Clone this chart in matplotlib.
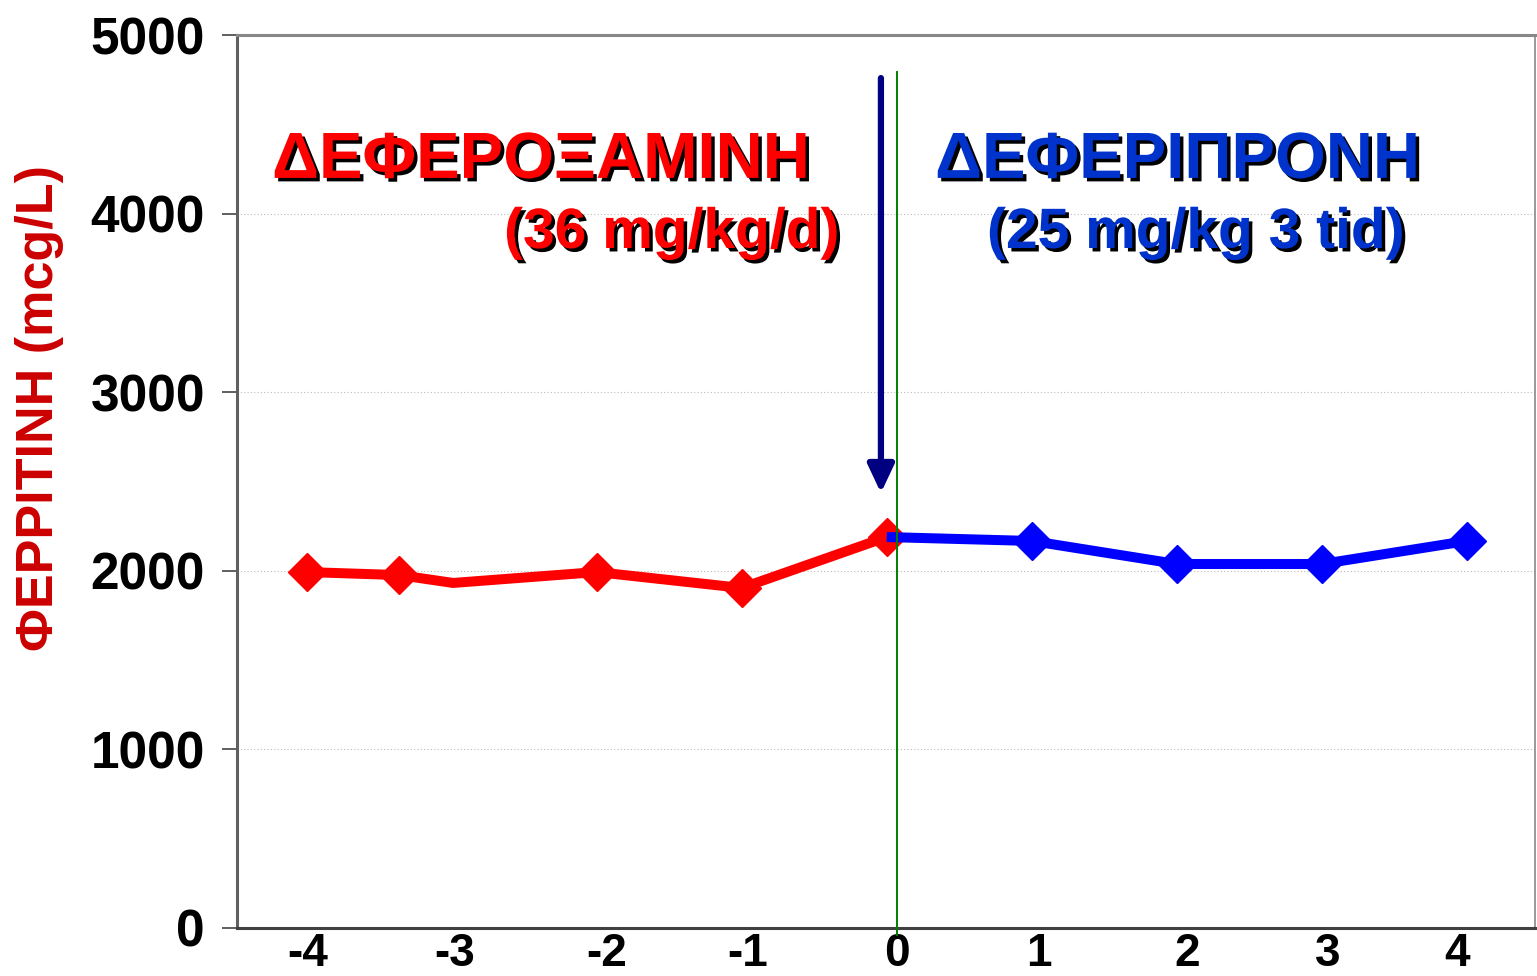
import matplotlib
matplotlib.use('Agg')
import matplotlib.pyplot as plt
import matplotlib.patheffects as pe

# ferritin before (deferoxamine) and after (deferiprone) the switch
red_x = [-4, -3.36, -2.99, -2, -1, 0]
red_y = [1993, 1976, 1932, 1993, 1904, 2189]
blue_x = [0, 1, 2, 3, 4]
blue_y = [2189, 2167, 2038, 2038, 2167]
# tick labels sit slightly off the integer grid in the original slide
xticks = [-3.99, -2.98, -1.93, -0.96, 0.07, 1.05, 2.07, 3.04, 3.93]
xticklabels = ['-4', '-3', '-2', '-1', '0', '1', '2', '3', '4']
yticks = [0, 1000, 2000, 3000, 4000, 5000]

font = ['Liberation Sans', 'DejaVu Sans']

fig = plt.figure(figsize=(15.37, 9.76), dpi=100)
ax = fig.add_axes([0.1542, 0.0492, 0.8445, 0.9149])

ax.set_xlim(-4.48, 4.47)
ax.set_ylim(0, 5000)

# lines
ax.plot(red_x, red_y, color='#ff0000', lw=7.2, marker='D', ms=19,
        markevery=[0, 1, 3, 4, 5], solid_joinstyle='miter', zorder=3)
ax.plot(blue_x, blue_y, color='#0000ff', lw=7.2, marker='D', ms=19,
        markevery=[1, 2, 3, 4], solid_capstyle='butt', zorder=4)

# switch line and arrow
ax.plot([0.07, 0.07], [-40, 4793], color='#008000', lw=1.4, clip_on=False, zorder=5)
ax.annotate('', xy=(-0.04, 2436), xytext=(-0.04, 4759),
            arrowprops=dict(arrowstyle='-|>,head_length=0.85,head_width=0.4',
                            mutation_scale=20, lw=4.5, color='#000080',
                            shrinkA=0, shrinkB=0), zorder=6)

# grid
ax.set_yticks(yticks)
ax.yaxis.grid(True, ls=(0, (1, 2)), color='#bbbbbb', lw=0.8)
ax.set_axisbelow(True)

ax.set_xticks(xticks)
ax.set_xticklabels(xticklabels, family=font, fontweight='bold', fontsize=33)
ax.set_yticklabels([str(v) for v in yticks], family=font, fontweight='bold', fontsize=37)
ax.tick_params(axis='x', length=0, pad=3)
ax.tick_params(axis='y', length=11, width=1.2, color='#444444', pad=12)

ax.spines['left'].set_color('#606060')
ax.spines['left'].set_linewidth(2.2)
ax.spines['bottom'].set_color('#404040')
ax.spines['bottom'].set_linewidth(2.2)
ax.spines['top'].set_color('#888888')
ax.spines['top'].set_linewidth(2.2)
ax.spines['right'].set_color('#888888')
ax.spines['right'].set_linewidth(1.2)

shadow = [pe.withSimplePatchShadow(offset=(2.5, -2.5), shadow_rgbFace='black', alpha=1)]

ax.text(0.027, 0.840, 'ΔΕΦΕΡΟΞΑΜΙΝΗ', transform=ax.transAxes, family=font,
        fontweight='bold', fontsize=47, color='#ff0000', va='baseline', ha='left',
        path_effects=shadow, zorder=7)
ax.text(0.4646, 0.7615, '(36 mg/kg/d)', transform=ax.transAxes, family=font,
        fontweight='bold', fontsize=41, color='#ff0000', va='baseline', ha='right',
        path_effects=shadow, zorder=7)
ax.text(0.5378, 0.840, 'ΔΕΦΕΡΙΠΡΟΝΗ', transform=ax.transAxes, family=font,
        fontweight='bold', fontsize=47, color='#0033cc', va='baseline', ha='left',
        path_effects=shadow, zorder=7)
ax.text(0.5778, 0.7615, '(25 mg/kg 3 tid)', transform=ax.transAxes, family=font,
        fontweight='bold', fontsize=41, color='#0033cc', va='baseline', ha='left',
        path_effects=shadow, zorder=7)

fig.text(40 / 1537, 1 - 408 / 976, 'ΦΕΡΡΙΤΙΝΗ (mcg/L)', rotation=90, family=font,
         fontweight='bold', fontsize=37.5, color='#cc0000', ha='center', va='center')

fig.savefig('out.png', dpi=100)
